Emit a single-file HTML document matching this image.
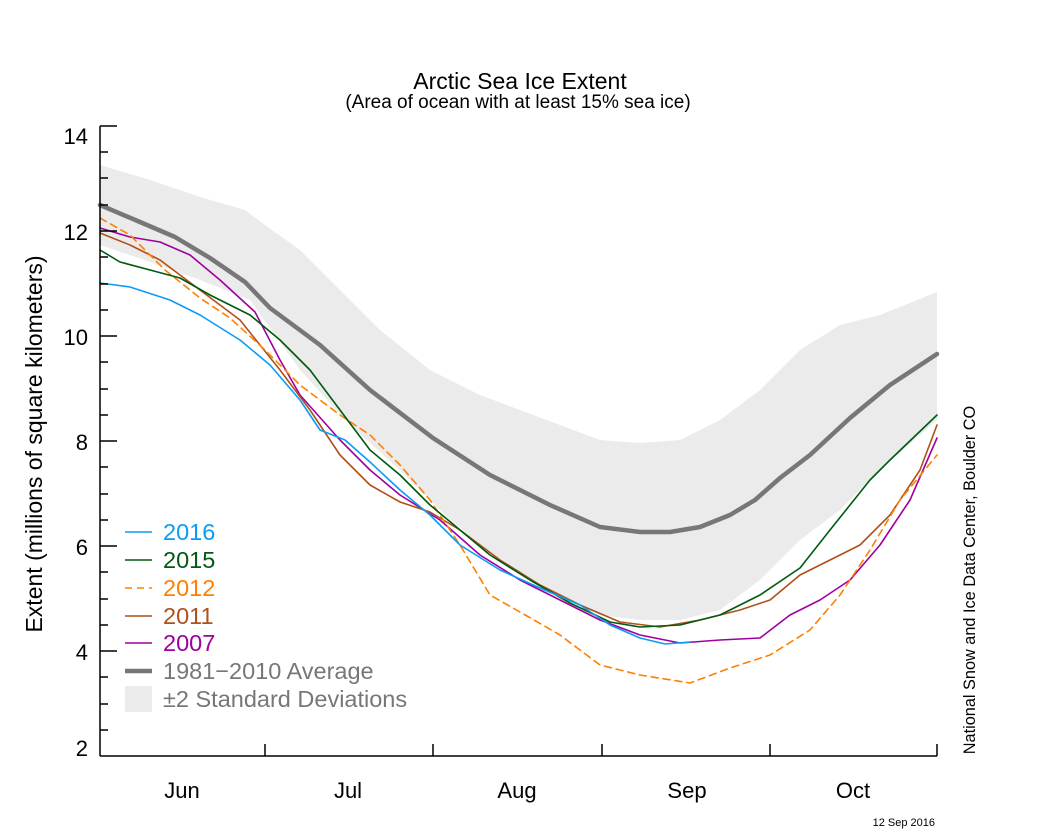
<!DOCTYPE html>
<html><head><meta charset="utf-8"><style>body{margin:0;background:#fff}svg{display:block}</style></head><body>
<svg width="1050" height="840" xmlns="http://www.w3.org/2000/svg" font-family="Liberation Sans, sans-serif">
<rect width="1050" height="840" fill="#fff"/>
<polygon fill="#ebebeb" points="100,165 150,180 200,197 245,210 265,225 300,250 340,290 380,330 430,370 480,395 520,410 560,425 600,440 640,443 680,440 720,420 760,390 800,350 840,325 880,315 937,292 937,420 880,470 840,510 800,540 760,580 720,610 680,620 640,620 600,615 550,590 500,560 450,520 400,470 350,425 300,370 250,300 200,280 150,262 100,245"/>
<g fill="none" stroke-linejoin="round" stroke-linecap="round">
<polyline stroke="#777" stroke-width="4.5" points="100,205 140,222 175,237 210,258 245,282 270,308 320,345 370,390 433,438 490,475 550,505 600,527 640,532 670,532 700,527 730,515 755,500 780,478 810,455 850,418 890,385 937,354"/>
<polyline stroke="#a0009f" stroke-width="1.6" points="100,228 130,237 160,242 190,255 220,280 255,312 280,360 300,395 340,440 370,470 400,495 440,520 480,555 520,580 560,600 600,620 640,635 680,643 720,640 760,638 790,615 820,600 850,580 880,545 910,500 937,438"/>
<polyline stroke="#b0501a" stroke-width="1.6" points="100,233 130,245 160,260 200,290 240,320 280,370 310,410 340,455 370,485 400,502 430,512 460,530 500,560 540,585 580,605 620,622 660,627 700,620 740,610 770,600 800,575 830,560 860,545 890,515 920,470 937,425"/>
<polyline stroke="#ff8000" stroke-width="1.6" stroke-dasharray="7,5" points="100,218 130,235 165,270 200,298 230,318 265,350 300,385 340,415 370,435 400,465 430,500 460,545 490,595 520,612 560,635 600,665 640,675 690,683 730,668 770,655 810,630 840,595 870,550 900,500 937,455"/>
<polyline stroke="#005a10" stroke-width="1.6" points="100,250 120,262 150,270 180,278 210,295 250,315 280,340 310,370 340,410 370,450 400,475 430,505 460,530 490,555 530,580 570,603 610,622 640,627 680,625 720,615 760,595 800,568 830,530 850,505 870,480 890,460 937,415"/>
<polyline stroke="#0a9cf5" stroke-width="1.6" points="100,283 130,287 170,300 200,315 240,340 270,365 300,400 320,430 345,440 370,462 400,490 430,515 460,545 500,570 540,588 580,605 610,625 640,638 665,644 690,642"/>
</g>
<g stroke="#000" stroke-width="1.5">
<line x1="100" y1="126" x2="100" y2="756"/><line x1="100" y1="756" x2="937" y2="756"/>
<line x1="100" y1="126" x2="117" y2="126"/><line x1="100" y1="231" x2="117" y2="231"/><line x1="100" y1="336" x2="117" y2="336"/><line x1="100" y1="441" x2="117" y2="441"/><line x1="100" y1="546" x2="117" y2="546"/><line x1="100" y1="651" x2="117" y2="651"/>
<line x1="100" y1="152" x2="108" y2="152"/><line x1="100" y1="178" x2="108" y2="178"/><line x1="100" y1="205" x2="108" y2="205"/><line x1="100" y1="257" x2="108" y2="257"/><line x1="100" y1="284" x2="108" y2="284"/><line x1="100" y1="310" x2="108" y2="310"/><line x1="100" y1="362" x2="108" y2="362"/><line x1="100" y1="389" x2="108" y2="389"/><line x1="100" y1="415" x2="108" y2="415"/><line x1="100" y1="467" x2="108" y2="467"/><line x1="100" y1="494" x2="108" y2="494"/><line x1="100" y1="520" x2="108" y2="520"/><line x1="100" y1="572" x2="108" y2="572"/><line x1="100" y1="599" x2="108" y2="599"/><line x1="100" y1="625" x2="108" y2="625"/><line x1="100" y1="677" x2="108" y2="677"/><line x1="100" y1="704" x2="108" y2="704"/><line x1="100" y1="730" x2="108" y2="730"/>
<line x1="265" y1="756" x2="265" y2="744"/><line x1="433" y1="756" x2="433" y2="744"/><line x1="602" y1="756" x2="602" y2="744"/><line x1="770" y1="756" x2="770" y2="744"/><line x1="937" y1="756" x2="937" y2="744"/>
</g>
<g font-size="22" text-anchor="end" fill="#000">
<text x="88" y="144">14</text><text x="88" y="240">12</text><text x="88" y="345">10</text><text x="88" y="450">8</text><text x="88" y="555">6</text><text x="88" y="660">4</text><text x="88" y="756">2</text>
</g>
<g font-size="22" text-anchor="middle">
<text x="182" y="798">Jun</text><text x="348" y="798">Jul</text><text x="517" y="798">Aug</text><text x="687" y="798">Sep</text><text x="853" y="798">Oct</text>
</g>
<text x="520" y="89" font-size="23" text-anchor="middle">Arctic Sea Ice Extent</text>
<text x="518" y="108" font-size="19" text-anchor="middle">(Area of ocean with at least 15% sea ice)</text>
<text transform="translate(42,444) rotate(-90)" font-size="23" text-anchor="middle">Extent (millions of square kilometers)</text>
<text transform="translate(975,580) rotate(-90)" font-size="16.3" text-anchor="middle">National Snow and Ice Data Center, Boulder CO</text>
<text x="935" y="826" font-size="11" text-anchor="end">12 Sep 2016</text>
<g font-size="23.5">
<line x1="125" y1="532" x2="152" y2="532" stroke="#0a9cf5" stroke-width="1.6"/><text x="163" y="540" fill="#0a9cf5">2016</text>
<line x1="125" y1="560" x2="152" y2="560" stroke="#005a10" stroke-width="1.6"/><text x="163" y="568" fill="#005a10">2015</text>
<line x1="125" y1="588" x2="152" y2="588" stroke="#ff8000" stroke-width="1.6" stroke-dasharray="7,5"/><text x="163" y="596" fill="#ff8000">2012</text>
<line x1="125" y1="616" x2="152" y2="616" stroke="#b0501a" stroke-width="1.6"/><text x="163" y="624" fill="#b0501a">2011</text>
<line x1="125" y1="643" x2="152" y2="643" stroke="#a0009f" stroke-width="1.6"/><text x="163" y="651" fill="#a0009f">2007</text>
<line x1="125" y1="671" x2="152" y2="671" stroke="#777" stroke-width="4.5"/><text x="163" y="679" fill="#777">1981−2010 Average</text>
<rect x="125" y="686" width="27" height="26" fill="#ebebeb"/><text x="163" y="707" fill="#777">±2 Standard Deviations</text>
</g>
</svg>
</body></html>
